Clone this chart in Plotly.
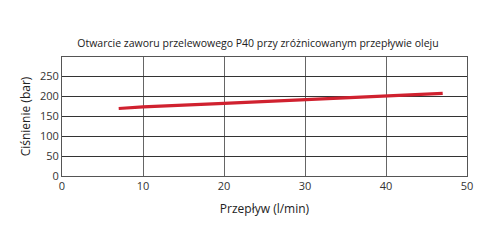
import plotly.graph_objects as go

flow = [7, 10, 20, 30, 40, 47]
pressure = [169, 173, 182, 191, 200, 207]
x_ticks = [0, 10, 20, 30, 40, 50]
y_ticks = [0, 50, 100, 150, 200, 250]

fig = go.Figure()
fig.add_trace(go.Scatter(x=flow, y=pressure, mode="lines",
                         line=dict(color="#d0212f", width=3.2), showlegend=False))

font = "Open Sans, Liberation Sans, sans-serif"

fig.update_layout(
    width=500, height=250,
    margin=dict(l=62, r=33, t=57, b=74),
    paper_bgcolor="white", plot_bgcolor="white",
    title=dict(text="Otwarcie zaworu przelewowego P40 przy zróżnicowanym przepływie oleju",
               x=0.516, xanchor="center", y=0.825, yanchor="middle",
               font=dict(family=font, size=10.5, color="#222")),
    font=dict(family=font, size=11, color="#333"),
    xaxis=dict(range=[0, 50], tickvals=x_ticks, showgrid=True, gridcolor="#666", gridwidth=1,
               showline=True, linecolor="#555", mirror=True, zeroline=False, ticks="",
               title=dict(text="Przepływ (l/min)", standoff=12, font=dict(size=12, color="#222"))),
    yaxis=dict(range=[0, 298], tickvals=y_ticks, showgrid=True, gridcolor="#333", gridwidth=1,
               showline=True, linecolor="#555", mirror=True, zeroline=False, ticks="",
               title=dict(text="Ciśnienie (bar)", standoff=6, font=dict(size=12, color="#222"))),
)
fig.write_html("out.html")
